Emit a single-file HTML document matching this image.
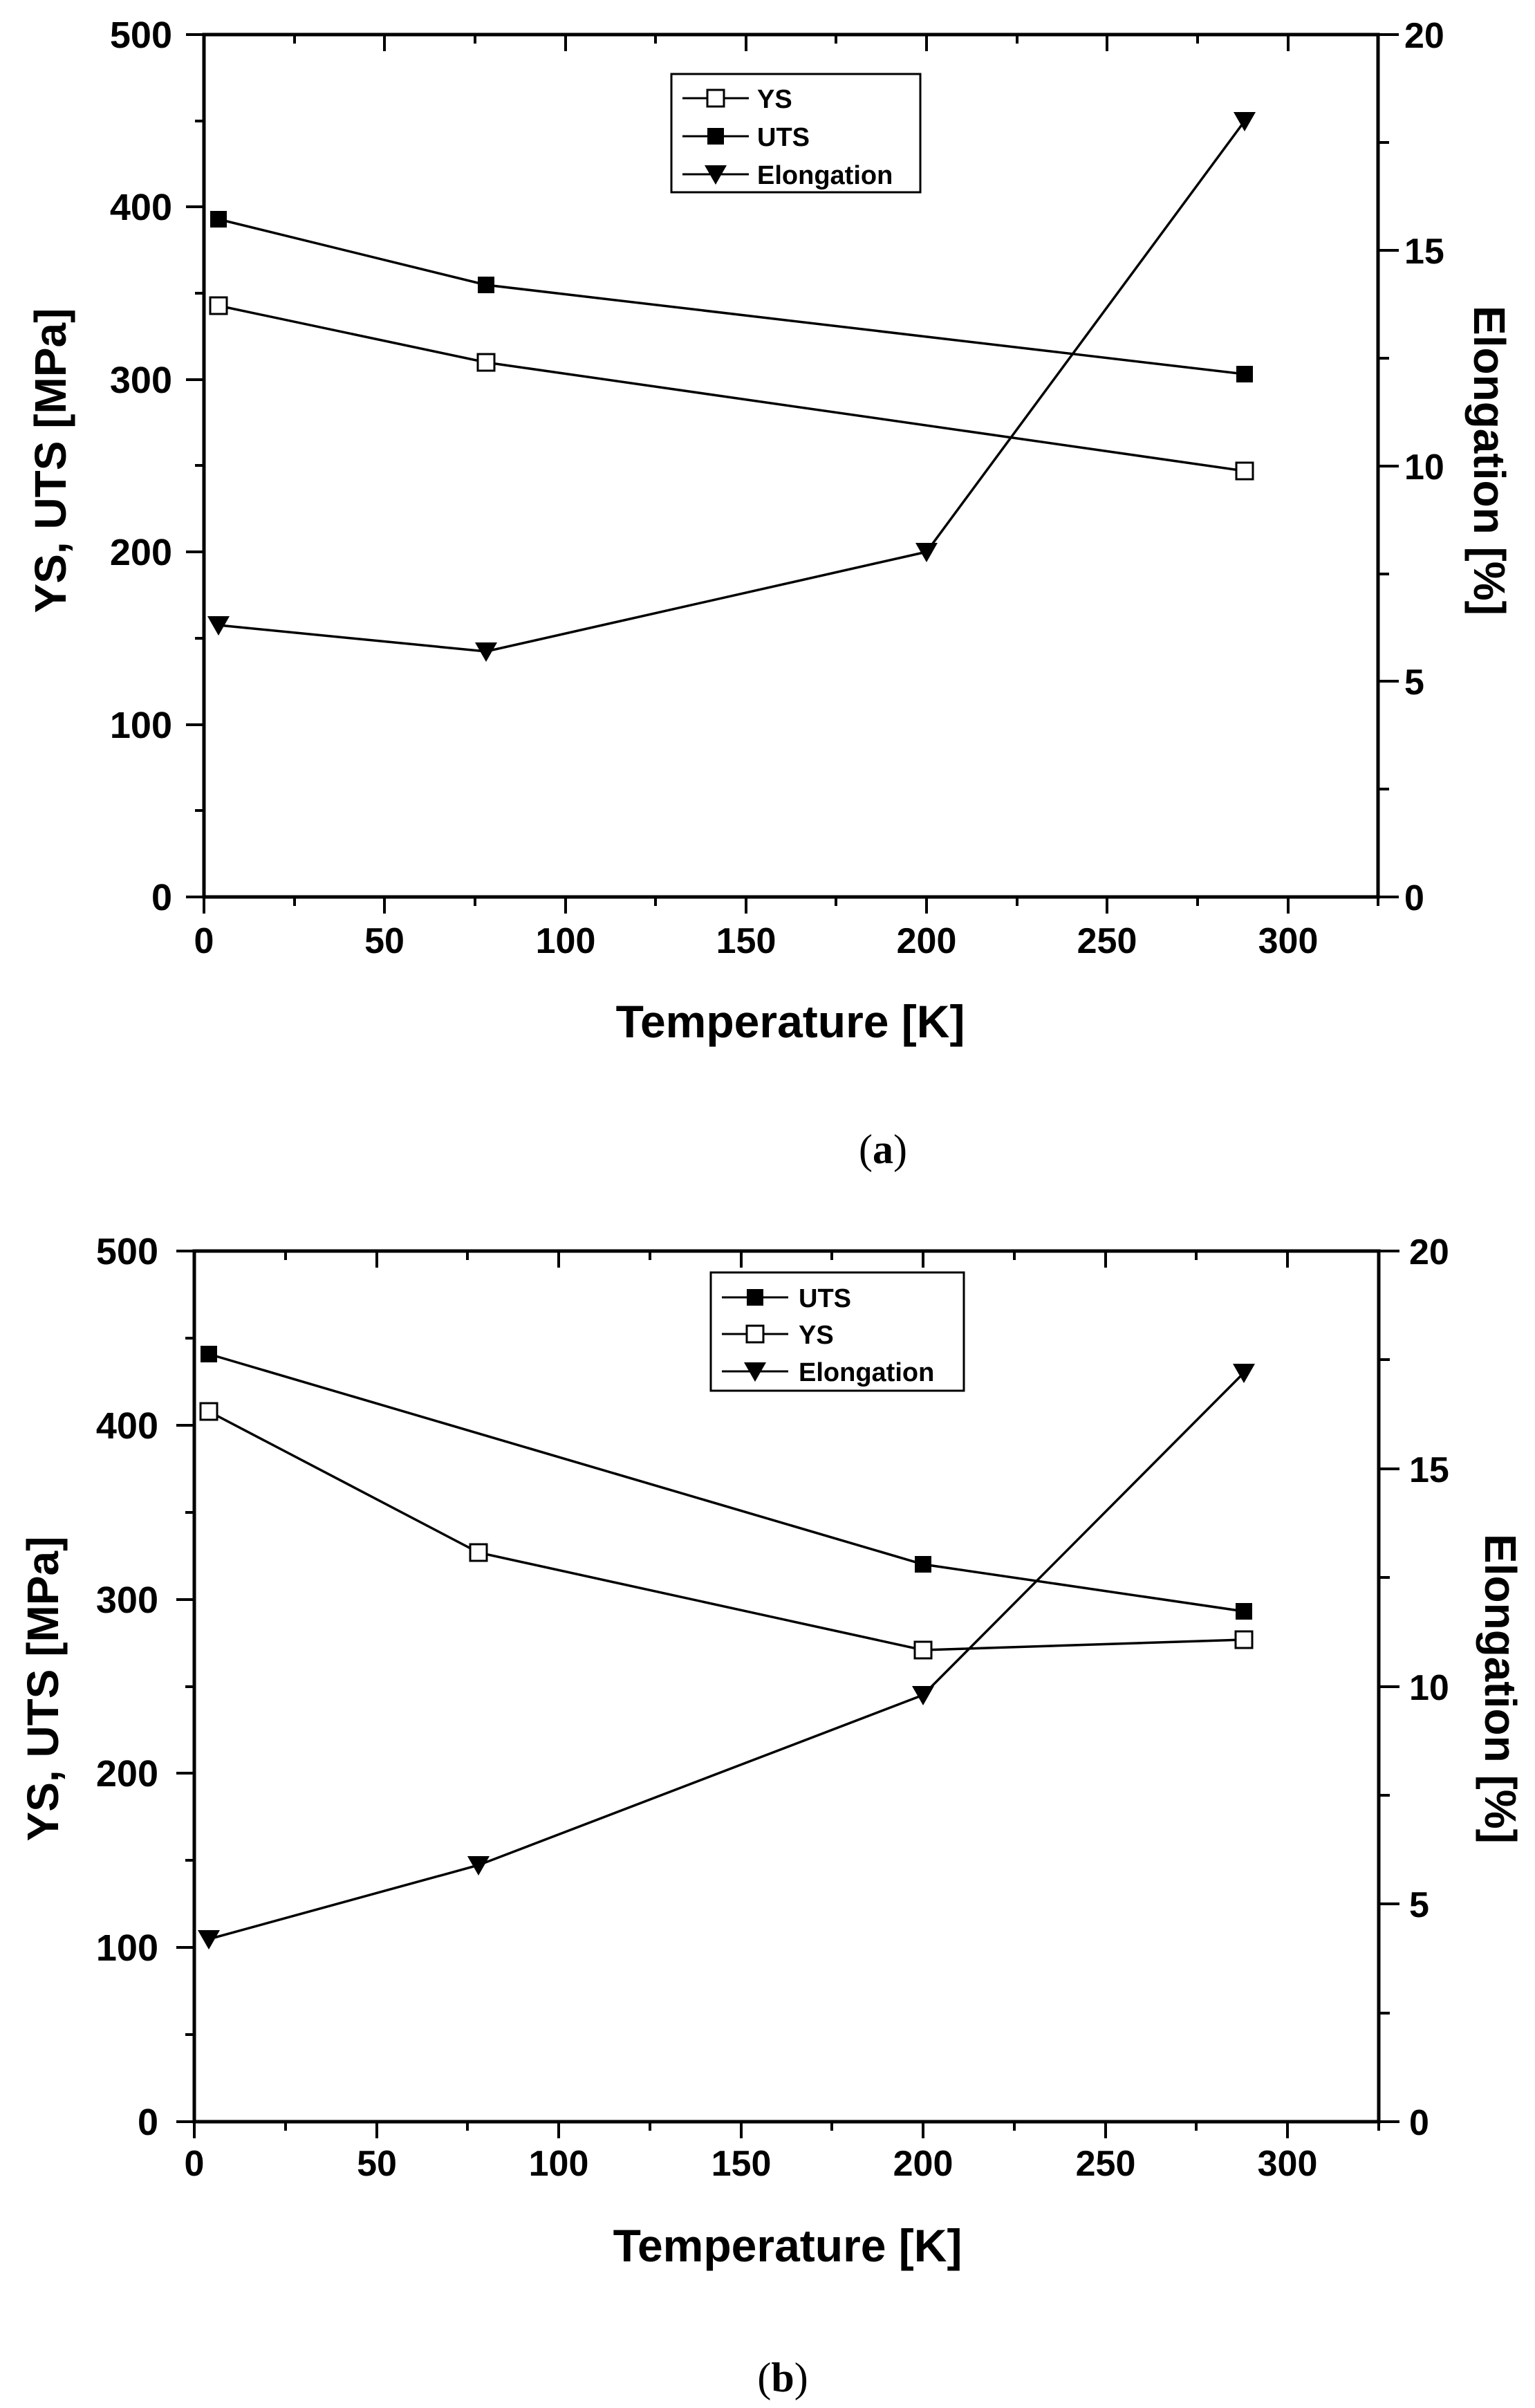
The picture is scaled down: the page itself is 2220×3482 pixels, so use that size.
<!DOCTYPE html>
<html><head><meta charset="utf-8"><style>
html,body{margin:0;padding:0;background:#fff;}
svg{display:block;}
text{font-family:"Liberation Sans",Arial,sans-serif;font-weight:bold;fill:#000;}
</style></head><body>
<svg width="2220" height="3482" viewBox="0 0 2220 3482" xmlns="http://www.w3.org/2000/svg">
<defs>
<g id="sqo"><rect x="-12" y="-12" width="24" height="24" fill="#fff" stroke="#000" stroke-width="3"/></g>
<g id="sqf"><rect x="-12" y="-12" width="24" height="24" fill="#000"/></g>
<g id="tri"><path d="M-16,-13 L16,-13 L0,15 Z" fill="#000"/></g>
</defs>

<!-- ===== Chart (a) ===== -->
<g stroke="#000" stroke-width="5" fill="none">
<rect x="295" y="50" width="1698" height="1247"/>
</g>
<g stroke="#000" stroke-width="4">
<path d="M295,1297v24M556,1297v24M818,1297v24M1079,1297v24M1340,1297v24M1601,1297v24M1863,1297v24M426,1297v13M687,1297v13M948,1297v13M1209,1297v13M1471,1297v13M1732,1297v13M1993,1297v13"/>
<path d="M556,50v24M818,50v24M1079,50v24M1340,50v24M1601,50v24M1863,50v24M426,50v13M687,50v13M948,50v13M1209,50v13M1471,50v13M1732,50v13"/>
<path d="M295,1297h-26M295,1048h-26M295,798h-26M295,549h-26M295,299h-26M295,50h-26M295,1172h-13M295,923h-13M295,673h-13M295,424h-13M295,175h-13"/>
<path d="M1993,1297h30M1993,985h30M1993,674h30M1993,362h30M1993,50h30M1993,1141h16M1993,830h16M1993,518h16M1993,206h16"/>
</g>
<g font-size="54" text-anchor="end">
<text x="249" y="1316">0</text><text x="249" y="1067">100</text><text x="249" y="817">200</text>
<text x="249" y="568">300</text><text x="249" y="318">400</text><text x="249" y="69">500</text>
</g>
<g font-size="52" text-anchor="middle">
<text x="295" y="1378">0</text><text x="556" y="1378">50</text><text x="818" y="1378">100</text>
<text x="1079" y="1378">150</text><text x="1340" y="1378">200</text><text x="1601" y="1378">250</text><text x="1863" y="1378">300</text>
</g>
<g font-size="52" text-anchor="start">
<text x="2031" y="1316">0</text><text x="2031" y="1004">5</text><text x="2031" y="693">10</text>
<text x="2031" y="381">15</text><text x="2031" y="69">20</text>
</g>
<text x="1143" y="1500" font-size="66" text-anchor="middle">Temperature [K]</text>
<text transform="translate(95,666) rotate(-90)" font-size="64" text-anchor="middle">YS, UTS [MPa]</text>
<text transform="translate(2132,666) rotate(90)" font-size="64" text-anchor="middle">Elongation [%]</text>

<g stroke="#000" stroke-width="3.5" fill="none">
<polyline points="316,317 703,412 1800,541"/>
<polyline points="316,442 703,524 1800,681"/>
<polyline points="316,904 703,942 1340,798 1800,175"/>
</g>
<use href="#sqf" x="316" y="317"/><use href="#sqf" x="703" y="412"/><use href="#sqf" x="1800" y="541"/>
<use href="#sqo" x="316" y="442"/><use href="#sqo" x="703" y="524"/><use href="#sqo" x="1800" y="681"/>
<use href="#tri" x="316" y="904"/><use href="#tri" x="703" y="942"/><use href="#tri" x="1340" y="798"/><use href="#tri" x="1800" y="175"/>

<rect x="971" y="107" width="360" height="171" fill="#fff" stroke="#000" stroke-width="3"/>
<g stroke="#000" stroke-width="3"><path d="M987,142h96M987,197h96M987,252h96"/></g>
<use href="#sqo" x="1035" y="142"/><use href="#sqf" x="1035" y="197"/><use href="#tri" x="1035" y="252"/>
<g font-size="38"><text x="1095" y="156">YS</text><text x="1095" y="211">UTS</text><text x="1095" y="266">Elongation</text></g>

<text x="1277" y="1682" font-size="60" text-anchor="middle" style="font-family:'Liberation Serif',serif;font-weight:normal">(<tspan font-weight="bold">a</tspan>)</text>

<!-- ===== Chart (b) ===== -->
<g stroke="#000" stroke-width="5" fill="none">
<rect x="281" y="1809" width="1713" height="1259"/>
</g>
<g stroke="#000" stroke-width="4">
<path d="M281,3068v24M545,3068v24M808,3068v24M1072,3068v24M1335,3068v24M1599,3068v24M1862,3068v24M413,3068v13M676,3068v13M940,3068v13M1203,3068v13M1467,3068v13M1730,3068v13M1994,3068v13"/>
<path d="M545,1809v24M808,1809v24M1072,1809v24M1335,1809v24M1599,1809v24M1862,1809v24M413,1809v13M676,1809v13M940,1809v13M1203,1809v13M1467,1809v13M1730,1809v13"/>
<path d="M281,3068h-26M281,2816h-26M281,2564h-26M281,2313h-26M281,2061h-26M281,1809h-26M281,2942h-13M281,2690h-13M281,2439h-13M281,2187h-13M281,1935h-13"/>
<path d="M1994,3068h30M1994,2753h30M1994,2439h30M1994,2124h30M1994,1809h30M1994,2911h16M1994,2596h16M1994,2281h16M1994,1966h16"/>
</g>
<g font-size="54" text-anchor="end">
<text x="229" y="3087">0</text><text x="229" y="2835">100</text><text x="229" y="2583">200</text>
<text x="229" y="2332">300</text><text x="229" y="2080">400</text><text x="229" y="1828">500</text>
</g>
<g font-size="52" text-anchor="middle">
<text x="281" y="3146">0</text><text x="545" y="3146">50</text><text x="808" y="3146">100</text>
<text x="1072" y="3146">150</text><text x="1335" y="3146">200</text><text x="1599" y="3146">250</text><text x="1862" y="3146">300</text>
</g>
<g font-size="52" text-anchor="start">
<text x="2038" y="3087">0</text><text x="2038" y="2772">5</text><text x="2038" y="2458">10</text>
<text x="2038" y="2143">15</text><text x="2038" y="1828">20</text>
</g>
<text x="1139" y="3270" font-size="66" text-anchor="middle">Temperature [K]</text>
<text transform="translate(84,2442) rotate(-90)" font-size="64" text-anchor="middle">YS, UTS [MPa]</text>
<text transform="translate(2148,2442) rotate(90)" font-size="64" text-anchor="middle">Elongation [%]</text>

<g stroke="#000" stroke-width="3.5" fill="none">
<polyline points="302,1958 1335,2262 1799,2330"/>
<polyline points="302,2041 692,2245 1335,2386 1799,2371"/>
<polyline points="302,2804 692,2697 1335,2451 1799,1985"/>
</g>
<use href="#sqf" x="302" y="1958"/><use href="#sqf" x="1335" y="2262"/><use href="#sqf" x="1799" y="2330"/>
<use href="#sqo" x="302" y="2041"/><use href="#sqo" x="692" y="2245"/><use href="#sqo" x="1335" y="2386"/><use href="#sqo" x="1799" y="2371"/>
<use href="#tri" x="302" y="2804"/><use href="#tri" x="692" y="2697"/><use href="#tri" x="1335" y="2451"/><use href="#tri" x="1799" y="1985"/>

<rect x="1028" y="1840" width="366" height="171" fill="#fff" stroke="#000" stroke-width="3"/>
<g stroke="#000" stroke-width="3"><path d="M1044,1876h96M1044,1929h96M1044,1983h96"/></g>
<use href="#sqf" x="1092" y="1876"/><use href="#sqo" x="1092" y="1929"/><use href="#tri" x="1092" y="1983"/>
<g font-size="38"><text x="1155" y="1890">UTS</text><text x="1155" y="1943">YS</text><text x="1155" y="1997">Elongation</text></g>

<text x="1132" y="3458" font-size="60" text-anchor="middle" style="font-family:'Liberation Serif',serif;font-weight:normal">(<tspan font-weight="bold">b</tspan>)</text>
</svg>
</body></html>
